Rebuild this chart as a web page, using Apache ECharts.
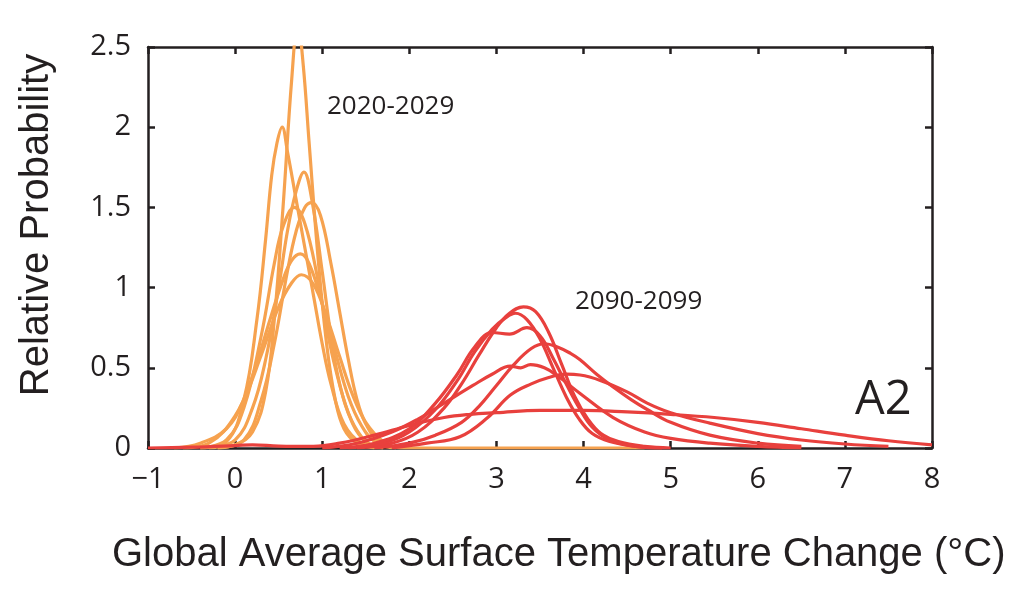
<!DOCTYPE html>
<html>
<head>
<meta charset="utf-8">
<script src="https://cdn.jsdelivr.net/npm/echarts@6/dist/echarts.min.js"></script>
<style>html,body{margin:0;padding:0;background:#fff;}#c{width:1024px;height:602px;}</style>
</head>
<body>
<div id="c"></div>
<script>
// Tick values
const xTicks = [-1, 0, 1, 2, 3, 4, 5, 6, 7, 8];
const yTicks = [0, 0.5, 1, 1.5, 2, 2.5];

// 2020-2029 curves (orange)
const o1x = [-0.2, 0.0, 0.2, 0.35, 0.45, 0.55, 0.65, 0.72, 0.78, 0.85, 0.95, 1.05, 1.15, 1.25, 1.4, 1.6];
const o1y = [0, 0.02, 0.1, 0.35, 0.8, 1.5, 2.3, 2.65, 2.4, 1.9, 1.2, 0.65, 0.3, 0.12, 0.03, 0];
const o2x = [-0.4, -0.1, 0.1, 0.25, 0.35, 0.42, 0.48, 0.54, 0.6, 0.7, 0.8, 0.9, 1.0, 1.1, 1.25, 1.45, 1.7];
const o2y = [0, 0.04, 0.3, 0.8, 1.3, 1.7, 1.9, 2.0, 1.85, 1.55, 1.25, 0.95, 0.65, 0.4, 0.15, 0.03, 0];
const o3x = [-0.3, 0.0, 0.2, 0.35, 0.5, 0.6, 0.7, 0.79, 0.88, 1.0, 1.1, 1.2, 1.35, 1.5, 1.7];
const o3y = [0, 0.05, 0.25, 0.55, 1.0, 1.35, 1.6, 1.72, 1.55, 1.1, 0.7, 0.4, 0.15, 0.04, 0];
const o4x = [-0.2, 0.1, 0.3, 0.45, 0.6, 0.7, 0.8, 0.88, 0.98, 1.1, 1.2, 1.3, 1.4, 1.5, 1.65, 1.85];
const o4y = [0, 0.05, 0.3, 0.65, 1.1, 1.35, 1.5, 1.53, 1.45, 1.15, 0.85, 0.55, 0.3, 0.15, 0.04, 0];
const o5x = [-0.4, -0.1, 0.1, 0.3, 0.45, 0.55, 0.68, 0.8, 0.95, 1.05, 1.15, 1.3, 1.45, 1.6];
const o5y = [0, 0.05, 0.25, 0.7, 1.15, 1.38, 1.5, 1.4, 1.05, 0.75, 0.5, 0.22, 0.07, 0];
const o6x = [-0.6, -0.3, 0.0, 0.2, 0.4, 0.55, 0.65, 0.75, 0.85, 1.0, 1.15, 1.3, 1.45, 1.6, 1.8];
const o6y = [0, 0.03, 0.2, 0.45, 0.8, 1.05, 1.17, 1.21, 1.15, 0.9, 0.6, 0.32, 0.14, 0.04, 0];
const o7x = [-0.7, -0.4, -0.1, 0.1, 0.3, 0.5, 0.65, 0.76, 0.9, 1.05, 1.2, 1.35, 1.5, 1.7, 1.9, 4.7];
const o7y = [0, 0.03, 0.12, 0.3, 0.58, 0.88, 1.03, 1.08, 1.02, 0.82, 0.57, 0.33, 0.16, 0.04, 0, 0];

// 2090-2099 curves (red)
const r1x = [1.4, 1.8, 2.1, 2.4, 2.6, 2.8, 3.0, 3.15, 3.31, 3.45, 3.6, 3.75, 3.9, 4.05, 4.2, 4.4, 4.7, 5.0];
const r1y = [0, 0.03, 0.1, 0.25, 0.4, 0.58, 0.75, 0.84, 0.88, 0.85, 0.72, 0.52, 0.32, 0.18, 0.09, 0.04, 0.01, 0];
const r2x = [1.3, 1.7, 2.0, 2.3, 2.55, 2.75, 2.95, 3.1, 3.22, 3.35, 3.5, 3.65, 3.8, 3.95, 4.1, 4.3, 4.6, 4.9];
const r2y = [0, 0.03, 0.1, 0.24, 0.42, 0.6, 0.74, 0.81, 0.84, 0.8, 0.68, 0.5, 0.32, 0.18, 0.09, 0.04, 0.01, 0];
const r3x = [1.2, 1.6, 2.0, 2.3, 2.55, 2.75, 2.95, 3.15, 3.35, 3.5, 3.65, 3.8, 3.95, 4.1, 4.3, 4.6, 4.9];
const r3y = [0, 0.03, 0.12, 0.28, 0.46, 0.63, 0.72, 0.71, 0.75, 0.7, 0.56, 0.4, 0.25, 0.13, 0.05, 0.01, 0];
const r4x = [1.6, 2.0, 2.3, 2.6, 2.8, 3.0, 3.2, 3.4, 3.55, 3.7, 3.85, 3.96, 4.15, 4.34, 4.55, 4.73, 5.0, 5.45, 6.0, 6.5];
const r4y = [0, 0.03, 0.08, 0.16, 0.26, 0.39, 0.52, 0.62, 0.65, 0.63, 0.59, 0.55, 0.46, 0.38, 0.3, 0.24, 0.16, 0.08, 0.03, 0.01];
const r5x = [1.0, 1.4, 1.8, 2.1, 2.4, 2.73, 2.95, 3.16, 3.28, 3.39, 3.55, 3.7, 3.96, 4.34, 4.7, 5.0, 5.45, 6.0, 6.5];
const r5y = [0, 0.03, 0.1, 0.18, 0.28, 0.39, 0.46, 0.51, 0.5, 0.52, 0.5, 0.45, 0.34, 0.19, 0.1, 0.06, 0.03, 0.01, 0];
const r6x = [1.8, 2.2, 2.58, 2.9, 3.16, 3.4, 3.6, 3.8, 3.96, 4.2, 4.5, 4.73, 5.0, 5.45, 6.0, 6.5, 7.0, 7.5];
const r6y = [0, 0.03, 0.07, 0.19, 0.33, 0.4, 0.44, 0.46, 0.455, 0.42, 0.35, 0.28, 0.22, 0.155, 0.09, 0.05, 0.025, 0.01];
const r7x = [-1, -0.5, 0.0, 0.2, 0.5, 0.9, 1.2, 1.6, 2.0, 2.4, 2.7, 3.0, 3.5, 4.0, 4.5, 5.0, 5.5, 6.0, 6.5, 7.0, 7.5, 8.0];
const r7y = [0, 0.005, 0.015, 0.02, 0.012, 0.01, 0.03, 0.08, 0.14, 0.19, 0.21, 0.22, 0.235, 0.235, 0.225, 0.21, 0.19, 0.16, 0.12, 0.08, 0.045, 0.02];

const orangeCurves = [[o1x,o1y],[o2x,o2y],[o3x,o3y],[o4x,o4y],[o5x,o5y],[o6x,o6y],[o7x,o7y]];
const redCurves = [[r1x,r1y],[r2x,r2y],[r3x,r3y],[r4x,r4y],[r5x,r5y],[r6x,r6y],[r7x,r7y]];

const ORANGE = '#F6A24F';
const RED = '#E8403D';
const AXIS = '#231F20';

function mk(c, color) {
  return {
    type: 'line', xAxisIndex: 0, yAxisIndex: 0,
    data: c[0].map((x, i) => [x, c[1][i]]),
    showSymbol: false, symbol: 'none', smooth: 0.4,
    lineStyle: { color: color, width: 3.2 }, clip: true, silent: true
  };
}
const series = orangeCurves.map(c => mk(c, ORANGE)).concat(redCurves.map(c => mk(c, RED)));

const chart = echarts.init(document.getElementById('c'), null, { renderer: 'canvas' });
const tickFont = { fontFamily: 'Open Sans', fontSize: 29, color: '#231F20' };
chart.setOption({
  animation: false,
  backgroundColor: '#fff',
  grid: { left: 148, right: 92, top: 47, bottom: 154 },
  xAxis: [
    { type: 'value', min: -1, max: 8, interval: 1, position: 'bottom',
      axisLine: { show: true, onZero: false, lineStyle: { color: AXIS, width: 2.5 } },
      axisTick: { show: true, inside: true, length: 7, lineStyle: { color: AXIS, width: 2.5 } },
      axisLabel: Object.assign({ margin: 17, formatter: v => (v < 0 ? '\u2212' + Math.abs(v) : String(v)) }, tickFont),
      splitLine: { show: false } },
    { type: 'value', min: -1, max: 8, interval: 1, position: 'top',
      axisLine: { show: true, onZero: false, lineStyle: { color: AXIS, width: 2.5 } },
      axisTick: { show: true, inside: true, length: 7, lineStyle: { color: AXIS, width: 2.5 } },
      axisLabel: { show: false }, splitLine: { show: false } }
  ],
  yAxis: [
    { type: 'value', min: 0, max: 2.5, interval: 0.5, position: 'left',
      axisLine: { show: true, onZero: false, lineStyle: { color: AXIS, width: 2.5 } },
      axisTick: { show: true, inside: true, length: 7, lineStyle: { color: AXIS, width: 2.5 } },
      axisLabel: Object.assign({ margin: 17 }, tickFont),
      splitLine: { show: false } },
    { type: 'value', min: 0, max: 2.5, interval: 0.5, position: 'right',
      axisLine: { show: true, onZero: false, lineStyle: { color: AXIS, width: 2.5 } },
      axisTick: { show: true, inside: true, length: 7, lineStyle: { color: AXIS, width: 2.5 } },
      axisLabel: { show: false }, splitLine: { show: false } }
  ],
  series: series,
  graphic: [
    { type: 'text', left: 327, top: 94, style: { text: '2020-2029', font: '26px "Open Sans"', fill: '#231F20' } },
    { type: 'text', left: 575, top: 289, style: { text: '2090-2099', font: '26px "Open Sans"', fill: '#231F20' } },
    { type: 'text', left: 855, top: 377, style: { text: 'A2', font: '47px "Open Sans"', fill: '#231F20' } },
    { type: 'text', left: 112, top: 535, style: { text: 'Global Average Surface Temperature Change (\u00B0C)', font: '40px "Liberation Sans"', fill: '#231F20' } },
    { type: 'text', x: 37, y: 225, rotation: Math.PI / 2,
      style: { text: 'Relative Probability', font: '40px "Liberation Sans"', fill: '#231F20', align: 'center', verticalAlign: 'middle' } }
  ]
});
</script>
</body>
</html>
